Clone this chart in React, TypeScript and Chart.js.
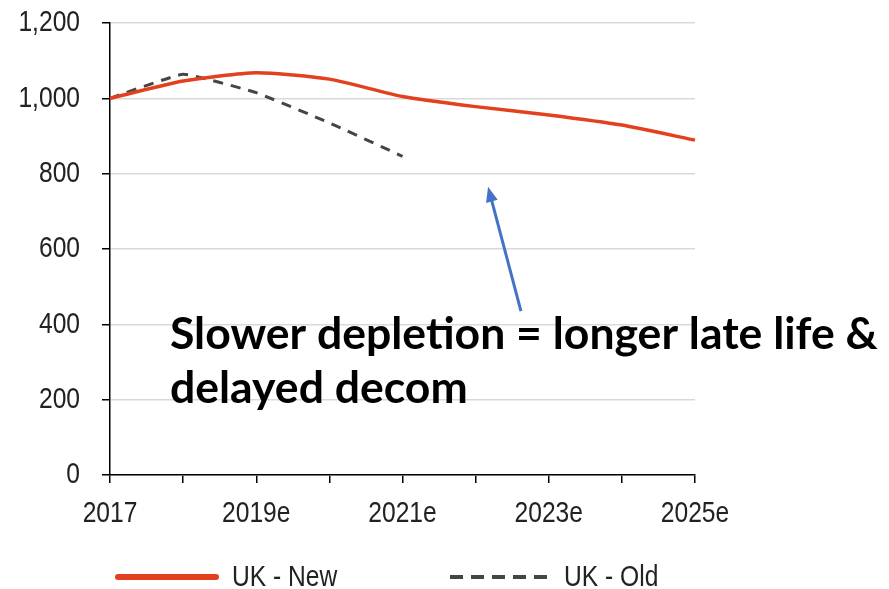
import React, { useEffect, useRef } from 'react';
import { Chart, registerables } from 'chart.js';

Chart.register(...registerables);

const categories = ['2017', '2018', '2019e', '2020e', '2021e', '2022e', '2023e', '2024e', '2025e'];
const ukNew = [1000, 1046, 1068, 1051, 1005, 978, 956, 929, 889];
const ukOld = [1000, 1064, 1015, 935, 846, null, null, null, null];
const yTicks = [0, 200, 400, 600, 800, 1000, 1200];
const annotationLines = ['Slower depletion = longer late life &', 'delayed decom'];

const RED = '#e3401d';
const GREY = '#454545';
const TICK_FONT = "'Liberation Sans', Arial, sans-serif";
const NARROW = 0.82; // emulate Arial Narrow

function narrowText(ctx: CanvasRenderingContext2D, text: string, x: number, y: number) {
  ctx.save();
  ctx.scale(NARROW, 1);
  ctx.fillText(text, x / NARROW, y);
  ctx.restore();
}

const overlayPlugin = {
  id: 'overlay',
  afterDraw(chart: any) {
    const ctx = chart.ctx as CanvasRenderingContext2D;
    const xs = chart.scales.x;
    const ys = chart.scales.y;
    ctx.save();

    // tick labels (narrow)
    ctx.font = `30px ${TICK_FONT}`;
    ctx.fillStyle = '#222';
    ctx.textBaseline = 'middle';
    ctx.textAlign = 'right';
    yTicks.forEach((v) => {
      narrowText(ctx, v.toLocaleString('en-US'), ys.right - 30, ys.getPixelForValue(v));
    });
    ctx.textAlign = 'center';
    categories.forEach((c, i) => {
      if (i % 2 !== 0) return;
      narrowText(ctx, c, xs.getPixelForValue(i), xs.top + 39);
    });

    // arrow (in data coordinates)
    const tipX = xs.getPixelForValue(5.17);
    const tipY = ys.getPixelForValue(765);
    const tailX = xs.getPixelForValue(5.62);
    const tailY = ys.getPixelForValue(435);
    const ang = Math.atan2(tipY - tailY, tipX - tailX);
    const headLen = 15;
    const headW = 6;
    ctx.strokeStyle = '#4472c4';
    ctx.fillStyle = '#4472c4';
    ctx.lineWidth = 3;
    ctx.beginPath();
    ctx.moveTo(tailX, tailY);
    ctx.lineTo(tipX - Math.cos(ang) * headLen * 0.8, tipY - Math.sin(ang) * headLen * 0.8);
    ctx.stroke();
    ctx.beginPath();
    ctx.moveTo(tipX, tipY);
    const bx = tipX - Math.cos(ang) * headLen;
    const by = tipY - Math.sin(ang) * headLen;
    ctx.lineTo(bx + Math.sin(ang) * headW, by - Math.cos(ang) * headW);
    ctx.lineTo(bx - Math.sin(ang) * headW, by + Math.cos(ang) * headW);
    ctx.closePath();
    ctx.fill();

    // annotation text
    const fam = "Lato, 'Open Sans', sans-serif";
    ctx.font = `bold 40px ${fam}`;
    const w = ctx.measureText(annotationLines[0]).width;
    const size = Math.min(48, (40 * 708) / w);
    ctx.font = `bold ${size}px ${fam}`;
    ctx.fillStyle = '#000';
    ctx.textAlign = 'left';
    ctx.textBaseline = 'alphabetic';
    ctx.fillText(annotationLines[0], 170, 349);
    ctx.fillText(annotationLines[1], 170, 403);

    // legend
    const items = chart.data.datasets.map((d: any, i: number) => ({
      label: d.label,
      color: d.borderColor,
      dash: d.borderDash || [],
      width: i === 0 ? 6 : 4,
      x: i === 0 ? 118 : 450,
    }));
    const ly = 577;
    ctx.font = `30px ${TICK_FONT}`;
    ctx.textBaseline = 'middle';
    ctx.textAlign = 'left';
    items.forEach((it: any) => {
      ctx.beginPath();
      ctx.strokeStyle = it.color;
      ctx.lineWidth = it.width;
      ctx.setLineDash(it.dash.length ? [13, 8] : []);
      ctx.lineCap = it.dash.length ? 'butt' : 'round';
      ctx.moveTo(it.x, ly);
      ctx.lineTo(it.x + 98, ly);
      ctx.stroke();
      ctx.setLineDash([]);
      ctx.fillStyle = '#222';
      narrowText(ctx, it.label, it.x + 114, ly + 1);
    });
    ctx.restore();
  },
};

export default function App() {
  const ref = useRef<HTMLCanvasElement | null>(null);

  useEffect(() => {
    document.body.style.margin = '0';
    const canvas = ref.current;
    if (!canvas) return;
    const chart = new Chart(canvas, {
      type: 'line',
      data: {
        labels: categories,
        datasets: [
          {
            label: 'UK - New',
            data: ukNew,
            borderColor: RED,
            backgroundColor: RED,
            borderWidth: 3.5,
            pointRadius: 0,
            tension: 0.2,
            fill: false,
          },
          {
            label: 'UK - Old',
            data: ukOld,
            borderColor: GREY,
            backgroundColor: GREY,
            borderWidth: 3,
            borderDash: [10, 8],
            pointRadius: 0,
            tension: 0.1,
            fill: false,
            spanGaps: false,
          },
        ],
      },
      options: {
        responsive: false,
        animation: false,
        layout: { padding: { left: 0, right: 194, top: 23, bottom: 0 } },
        plugins: {
          legend: { display: false },
          tooltip: { enabled: false },
        },
        scales: {
          x: {
            offset: false,
            afterFit: (s: any) => {
              s.height = 114;
              s.paddingLeft = 0;
              s.paddingRight = 0;
            },
            grid: {
              drawOnChartArea: false,
              drawTicks: true,
              tickLength: 8,
              tickColor: '#000',
              lineWidth: 1.5,
            },
            border: { display: true, color: '#000', width: 1.5 },
            ticks: { display: false, autoSkip: false, maxRotation: 0 },
          },
          y: {
            min: yTicks[0],
            max: yTicks[yTicks.length - 1],
            afterFit: (s: any) => {
              s.width = 110;
              s.paddingTop = 0;
              s.paddingBottom = 0;
            },
            afterBuildTicks: (s: any) => {
              s.ticks = yTicks.map((v) => ({ value: v }));
            },
            grid: {
              color: '#d9d9d9',
              lineWidth: 1.5,
              tickColor: '#000',
              tickLength: 8,
              drawTicks: true,
            },
            border: { display: true, color: '#000', width: 1.5 },
            ticks: { display: false },
          },
        },
      },
      plugins: [overlayPlugin],
    });
    return () => chart.destroy();
  }, []);

  return (
    <div style={{ position: 'absolute', left: 0, top: 0, width: 889, height: 589 }}>
      <canvas ref={ref} width={889} height={589} />
    </div>
  );
}
